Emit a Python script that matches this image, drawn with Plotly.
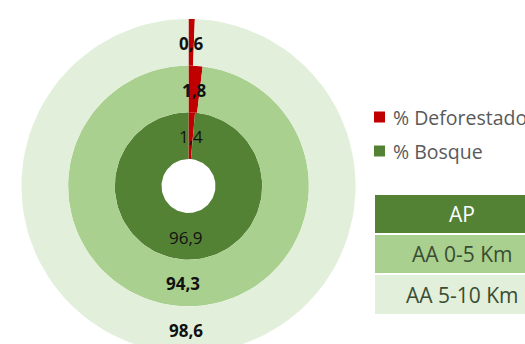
import numpy as np
import plotly.graph_objects as go

# Ring data (inner -> outer): protected area and its two buffer zones
rings = ["AP", "AA 0-5 Km", "AA 5-10 Km"]
deforestado = [1.4, 1.8, 0.6]
bosque = [96.9, 94.3, 98.6]
series_names = ["% Deforestado", "% Bosque"]

ring_colors = ["#548235", "#A9D08E", "#E2EFDA"]
red = "#C00000"
label_bold = [False, True, True]

W, H = 525, 344
CX, CY = 188.5, 186.0          # ring centre in pixels
HOLE = 27.0                    # hole radius
RING_W = 46.7                  # thickness of each ring

FONT = "Open Sans"


def sector(r0, r1, a0, a1, n=120):
    """Polygon of an annular sector; angles in degrees, clockwise from 12 o'clock."""
    t_out = np.radians(np.linspace(a0, a1, n))
    t_in = t_out[::-1]
    xs = np.concatenate([r1 * np.sin(t_out), r0 * np.sin(t_in)])
    ys = np.concatenate([r1 * np.cos(t_out), r0 * np.cos(t_in)])
    return np.append(xs, xs[0]), np.append(ys, ys[0])


fig = go.Figure()
annotations = []

for i, name in enumerate(rings):
    r0 = HOLE + i * RING_W
    r1 = r0 + RING_W
    vals = [deforestado[i], bosque[i]]
    total = sum(vals)
    cols = [red, ring_colors[i]]
    start = 0.0
    for v, c, sname in zip(vals, cols, series_names):
        span = v / total * 360.0
        xs, ys = sector(r0, r1, start, start + span)
        fig.add_trace(go.Scatter(
            x=xs, y=ys, mode="lines", fill="toself", fillcolor=c,
            line=dict(width=0, color=c), hoverinfo="text",
            text=f"{name} {sname}: {v}", showlegend=False,
        ))
        mid = np.radians(start + span / 2)
        rm = (r0 + r1) / 2
        txt = f"{v:.1f}".replace(".", ",")
        if label_bold[i]:
            txt = f"<b>{txt}</b>"
        annotations.append(dict(
            x=rm * np.sin(mid), y=rm * np.cos(mid) - 1, xref="x", yref="y",
            text=txt, showarrow=False, xanchor="center", yanchor="middle",
            font=dict(family=FONT, size=17, color="#111111"),
        ))
        start += span


def px(x):
    return x - CX


def py(y):
    return CY - y


shapes = []

# Series legend: coloured squares with labels
legend_rows = [(red, series_names[0], 117), ("#548235", series_names[1], 151)]
for col, txt, yc in legend_rows:
    shapes.append(dict(type="rect", xref="x", yref="y",
                       x0=px(374), x1=px(385), y0=py(yc - 5.5), y1=py(yc + 5.5),
                       fillcolor=col, line=dict(width=0)))
    annotations.append(dict(x=px(391), y=py(yc), xref="x", yref="y", text=txt,
                            showarrow=False, xanchor="left", yanchor="middle",
                            font=dict(family=FONT, size=19.5, color="#595959")))

# Ring legend as a small coloured table
table_rows = [(195, 233), (235, 273), (275, 314)]
text_cols = ["#FFFFFF", "#3A4D32", "#3A4D32"]
for (y0, y1), name, col, tc in zip(table_rows, rings, ring_colors, text_cols):
    shapes.append(dict(type="rect", xref="x", yref="y",
                       x0=px(375), x1=px(560), y0=py(y0), y1=py(y1),
                       fillcolor=col, line=dict(width=0)))
    annotations.append(dict(x=px(462), y=py((y0 + y1) / 2), xref="x", yref="y",
                            text=name, showarrow=False, xanchor="center",
                            yanchor="middle",
                            font=dict(family=FONT, size=21, color=tc)))

fig.update_layout(
    width=W, height=H, margin=dict(l=0, r=0, t=0, b=0),
    paper_bgcolor="white", plot_bgcolor="white",
    xaxis=dict(range=[-CX, W - CX], visible=False, fixedrange=True),
    yaxis=dict(range=[CY - H, CY], visible=False, fixedrange=True),
    shapes=shapes, annotations=annotations, showlegend=False,
)

fig.write_html("out.html")
